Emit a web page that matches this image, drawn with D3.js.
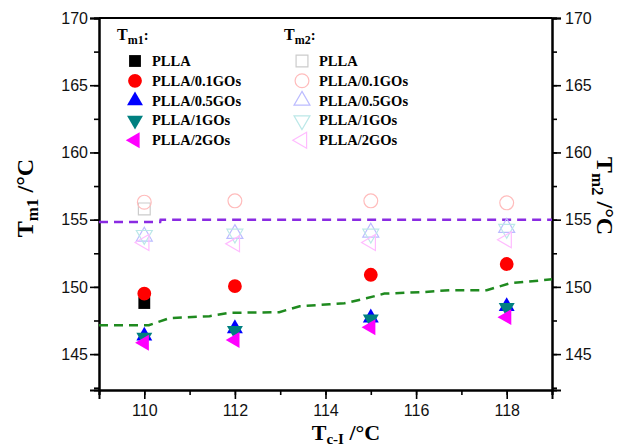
<!DOCTYPE html>
<html>
<head>
<meta charset="utf-8">
<script src="https://cdn.jsdelivr.net/npm/d3@7"></script>
<style>
  body { margin: 0; background: #fff; }
  .tick text { font-family: "Liberation Sans", Arial, sans-serif; font-size: 16px; fill: #111; }
  .title { font-family: "Liberation Serif", "Times New Roman", serif; font-weight: bold; fill: #000; }
  .leg { font-family: "Liberation Serif", "Times New Roman", serif; font-weight: bold; font-size: 14.5px; fill: #000; }
</style>
</head>
<body>
<svg width="621" height="447"></svg>
<script>
// crystallization temperature Tc-I (x)
var tc = [110, 112, 115, 118];

// Tm1 values (filled markers)
var tm1PLLA  = [148.8, null, null, null];
var tm1GO01  = [149.5, 150.05, 150.9, 151.7];
var tm1GO05  = [146.35, 146.9, 147.7, 148.55];
var tm1GO1   = [146.25, 146.75, 147.6, 148.45];
var tm1GO2   = [145.85, 146.05, 147.0, 147.75];

// Tm2 values (open markers)
var tm2PLLA  = [155.8, null, null, null];
var tm2GO01  = [156.3, 156.4, 156.4, 156.25];
var tm2GO05  = [153.75, 153.95, 154.05, 154.4];
var tm2GO1   = [153.85, 153.95, 153.95, 154.3];
var tm2GO2   = [153.3, 153.2, 153.3, 153.5];

// dashed fit lines
var fitTm2X = [109, 110.35, 110.36, 119];
var fitTm2Y = [154.83, 154.83, 155.0, 155.0];
var fitTm1X = [109, 110.1, 110.55, 111.44, 111.88, 112.98, 113.43, 114.09, 114.42, 114.9, 115.3, 116.08, 116.74, 117.56, 118.07, 119];
var fitTm1Y = [147.15, 147.15, 147.67, 147.82, 148.07, 148.12, 148.56, 148.7, 148.78, 149.15, 149.5, 149.6, 149.75, 149.75, 150.27, 150.56];

var legendNames = ["PLLA", "PLLA/0.1GOs", "PLLA/0.5GOs", "PLLA/1GOs", "PLLA/2GOs"];
var xTicks = [110, 112, 114, 116, 118];
var yTicks = [145, 150, 155, 160, 165, 170];

var svg = d3.select("svg"),
    margin = {top: 18, right: 69, bottom: 57, left: 99},
    width = +svg.attr("width") - margin.left - margin.right,
    height = +svg.attr("height") - margin.top - margin.bottom,
    g = svg.append("g").attr("transform", "translate(" + margin.left + "," + margin.top + ")");

var x = d3.scaleLinear().domain([109, 119]).range([0, width]);
var y = d3.scaleLinear().domain([142.33, 170]).range([height, 0]);

// marker styles: shape, rotation, colour
var shapes = [
  {sym: d3.symbolSquare, rot: 0, size: 140, fill: "#000000", open: "#cccccc"},
  {sym: d3.symbolCircle, rot: 0, size: 150, fill: "#ff0000", open: "#ffbcbc"},
  {sym: d3.symbolTriangle, rot: 0, size: 110, fill: "#0000ff", open: "#bcbcff"},
  {sym: d3.symbolTriangle, rot: 180, size: 110, fill: "#008080", open: "#bce8e8"},
  {sym: d3.symbolTriangle, rot: -90, size: 110, fill: "#ff00ff", open: "#ffbcff"}
];
var tm1 = [tm1PLLA, tm1GO01, tm1GO05, tm1GO1, tm1GO2];
var tm2 = [tm2PLLA, tm2GO01, tm2GO05, tm2GO1, tm2GO2];

// axes
function drawAxis(axis, transform) {
  var a = g.append("g").attr("transform", transform).call(axis);
  a.select(".domain").attr("stroke", "#000").attr("stroke-width", 2);
  a.selectAll(".tick line").attr("stroke", "#000").attr("stroke-width", 1.6);
  return a;
}
// minor ticks
drawAxis(d3.axisBottom(x).tickValues(d3.range(109, 119.5, 1)).tickSize(5).tickFormat(""), "translate(0," + height + ")");
drawAxis(d3.axisLeft(y).tickValues(d3.range(142.5, 170.5, 2.5)).tickSize(5).tickFormat(""), null);
drawAxis(d3.axisRight(y).tickValues(d3.range(142.5, 170.5, 2.5)).tickSize(5).tickFormat(""), "translate(" + width + ",0)");
// major ticks
drawAxis(d3.axisBottom(x).tickValues(xTicks).tickSize(9).tickPadding(6).tickFormat(d3.format("d")), "translate(0," + height + ")");
drawAxis(d3.axisLeft(y).tickValues(yTicks).tickSize(9).tickPadding(2).tickFormat(d3.format("d")), null);
drawAxis(d3.axisRight(y).tickValues(yTicks).tickSize(9).tickPadding(4).tickFormat(d3.format("d")), "translate(" + width + ",0)");

g.append("line").attr("x1", 0).attr("x2", width).attr("y1", 0).attr("y2", 0)
  .attr("stroke", "#000").attr("stroke-width", 2);

// fit lines
var line = d3.line().x(function(d) { return x(d[0]); }).y(function(d) { return y(d[1]); });
g.append("path")
  .attr("d", line(d3.zip(fitTm2X, fitTm2Y)))
  .attr("fill", "none").attr("stroke", "#8a2be2").attr("stroke-width", 2.5)
  .attr("stroke-dasharray", "9,6");
g.append("path")
  .attr("d", line(d3.zip(fitTm1X, fitTm1Y)))
  .attr("fill", "none").attr("stroke", "#1f8a1f").attr("stroke-width", 2.5)
  .attr("stroke-dasharray", "9,6");

function marker(sel, s, filled) {
  sel.attr("d", d3.symbol().type(s.sym).size(s.size)())
    .attr("fill", filled ? s.fill : "none")
    .attr("stroke", filled ? "none" : s.open)
    .attr("stroke-width", 1.2);
}

// open markers (Tm2)
tm2.forEach(function(vals, i) {
  var s = shapes[i];
  vals.forEach(function(v, j) {
    if (v == null) return;
    g.append("path")
      .attr("transform", "translate(" + x(tc[j]) + "," + y(v) + ") rotate(" + s.rot + ")")
      .call(marker, s, false);
  });
});

// filled markers (Tm1)
tm1.forEach(function(vals, i) {
  var s = shapes[i];
  vals.forEach(function(v, j) {
    if (v == null) return;
    g.append("path")
      .attr("transform", "translate(" + x(tc[j]) + "," + y(v) + ") rotate(" + s.rot + ")")
      .call(marker, s, true);
  });
});

// legend
function legendBlock(lx, filled, sub) {
  var hdr = svg.append("text").attr("class", "leg").attr("x", lx).attr("y", 40);
  hdr.append("tspan").attr("font-size", 16).text("T");
  hdr.append("tspan").attr("font-size", 12).attr("dy", 4).text(sub);
  hdr.append("tspan").attr("dy", -4).text(":");
  legendNames.forEach(function(name, i) {
    var ly = 61 + i * 19.8;
    svg.append("path")
      .attr("transform", "translate(" + (lx + 18) + "," + ly + ") rotate(" + shapes[i].rot + ")")
      .call(marker, shapes[i], filled);
    svg.append("text").attr("class", "leg").attr("x", lx + 35).attr("y", ly + 5).text(name);
  });
}
legendBlock(117, true, "m1");
legendBlock(284, false, "m2");

// axis titles
var lt = svg.append("text").attr("class", "title").attr("font-size", 24)
  .attr("transform", "translate(33,198) rotate(-90)").attr("text-anchor", "middle");
lt.append("tspan").text("T");
lt.append("tspan").attr("font-size", 17).attr("dy", 5).text("m1");
lt.append("tspan").attr("dy", -5).text(" /°C");

var rt = svg.append("text").attr("class", "title").attr("font-size", 24)
  .attr("transform", "translate(597,196) rotate(90)").attr("text-anchor", "middle");
rt.append("tspan").text("T");
rt.append("tspan").attr("font-size", 17).attr("dy", 5).text("m2");
rt.append("tspan").attr("dy", -5).text(" /°C");

var bt = svg.append("text").attr("class", "title").attr("font-size", 22)
  .attr("x", 346).attr("y", 440).attr("text-anchor", "middle");
bt.append("tspan").text("T");
bt.append("tspan").attr("font-size", 15).attr("dy", 4).text("c-I");
bt.append("tspan").attr("dy", -4).text(" /°C");
</script>
</body>
</html>
